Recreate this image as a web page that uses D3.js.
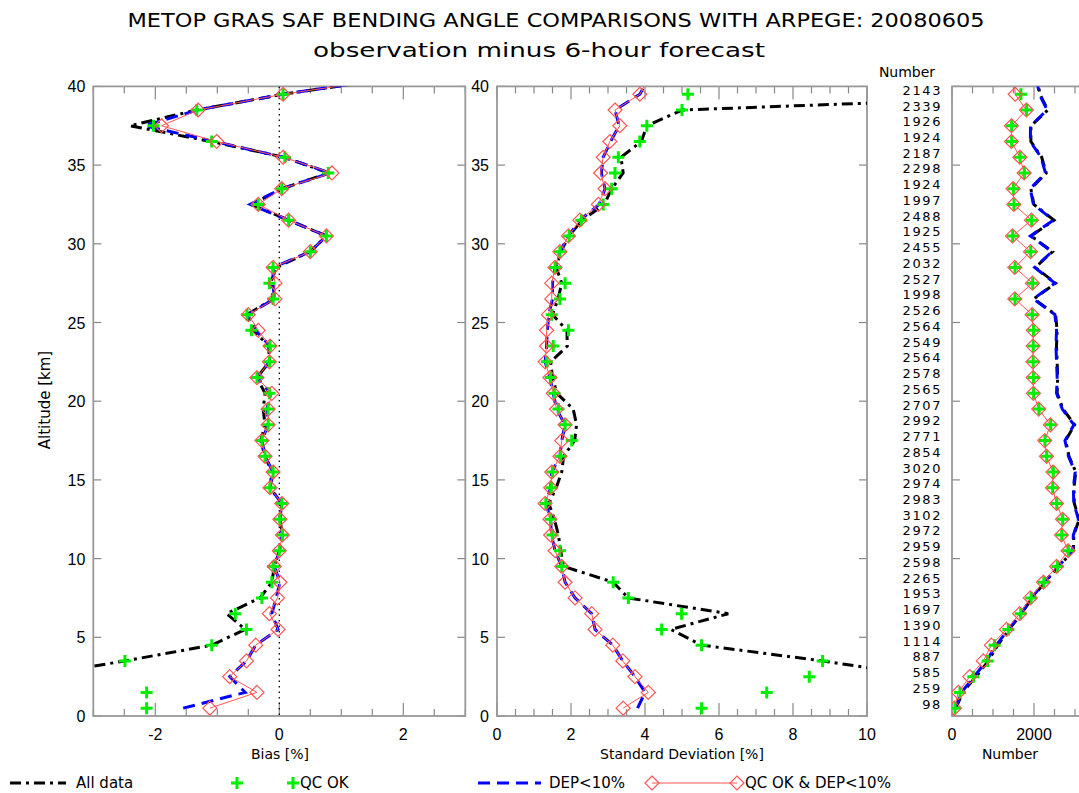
<!DOCTYPE html>
<html>
<head>
<meta charset="utf-8">
<script src="https://cdn.jsdelivr.net/npm/d3@7"></script>
<style>
  body { margin: 0; background: #fff; }
  text { fill: #000; }
</style>
</head>
<body>
<svg id="chart" width="1079" height="793"></svg>
<script>
// levels (km), bottom to top; the 40.5 km level is drawn but clipped by the frame
const altitudes = [0.5, 1.5, 2.5, 3.5, 4.5, 5.5, 6.5, 7.5, 8.5, 9.5, 10.5, 11.5, 12.5, 13.5, 14.5, 15.5,
    16.5, 17.5, 18.5, 19.5, 20.5, 21.5, 22.5, 23.5, 24.5, 25.5, 26.5, 27.5, 28.5, 29.5, 30.5, 31.5,
    32.5, 33.5, 34.5, 35.5, 36.5, 37.5, 38.5, 39.5, 40.5];

// Bias [%]
const biasAll = [-6.0, -5.0, -4.0, -2.49, -1.09, -0.55, -0.85, -0.31, -0.12, -0.08, 0.0, 0.05, 0.01, 0.04, -0.15, -0.12,
    -0.23, -0.30, -0.23, -0.26, -0.23, -0.36, -0.16, -0.17, -0.42, -0.52, -0.10, -0.14, -0.05, 0.50, 0.76, 0.15,
    -0.45, 0.04, 0.80, 0.08, -1.10, -2.41, -1.33, 0.06, 1.8];
const biasQc = [-2.14, -2.14, -3.4, -2.49, -1.09, -0.53, -0.71, -0.28, -0.12, -0.10, 0.0, 0.05, 0.01, 0.04, -0.15, -0.10,
    -0.23, -0.28, -0.18, -0.18, -0.16, -0.36, -0.16, -0.15, -0.45, -0.52, -0.10, -0.16, -0.10, 0.50, 0.76, 0.15,
    -0.34, 0.04, 0.79, 0.09, -1.09, -2.03, -1.33, 0.06, 1.8];
const biasDep = [-1.55, -0.55, -0.80, -0.53, -0.38, -0.02, -0.12, -0.05, 0.01, -0.08, 0.0, 0.05, 0.01, 0.04, -0.15, -0.10,
    -0.23, -0.28, -0.18, -0.20, -0.14, -0.36, -0.16, -0.15, -0.38, -0.51, -0.08, -0.10, -0.10, 0.50, 0.76, 0.15,
    -0.47, 0.04, 0.82, 0.07, -1.05, -2.17, -1.32, 0.06, 1.8];
const biasQcDep = [-1.12, -0.36, -0.80, -0.53, -0.38, -0.02, -0.16, -0.03, 0.01, -0.08, 0.0, 0.05, 0.01, 0.04, -0.15, -0.10,
    -0.23, -0.28, -0.18, -0.18, -0.12, -0.36, -0.16, -0.15, -0.34, -0.50, -0.07, -0.07, -0.10, 0.50, 0.76, 0.15,
    -0.34, 0.04, 0.85, 0.06, -1.01, -1.90, -1.31, 0.06, 1.8];

// Standard deviation [%]
const stdAll = [14.0, 13.0, 11.6, 8.8, 5.53, 4.7, 6.25, 3.55, 3.14, 1.8, 1.72, 1.66, 1.55, 1.4, 1.6, 1.75,
    1.8, 2.1, 2.15, 2.06, 1.62, 1.5, 1.45, 1.9, 1.89, 1.5, 1.65, 1.75, 1.6, 1.72, 1.95, 2.3,
    2.9, 3.1, 3.41, 3.35, 3.9, 4.05, 5.0, 16.5, 18.0];
const stdQc = [5.53, 7.29, 8.44, 8.80, 5.53, 4.45, 4.99, 3.55, 3.14, 1.75, 1.70, 1.50, 1.45, 1.32, 1.47, 1.50,
    1.72, 2.02, 1.84, 1.66, 1.55, 1.45, 1.35, 1.52, 1.93, 1.48, 1.70, 1.84, 1.57, 1.70, 1.95, 2.28,
    2.87, 3.10, 3.19, 3.28, 3.86, 4.05, 5.0, 5.16, 6.0];
const stdDep = [3.8, 4.0, 3.73, 3.40, 3.13, 2.65, 2.56, 2.11, 1.84, 1.75, 1.57, 1.47, 1.45, 1.32, 1.45, 1.48,
    1.70, 1.75, 1.84, 1.61, 1.52, 1.43, 1.30, 1.34, 1.36, 1.40, 1.50, 1.50, 1.57, 1.70, 1.93, 2.24,
    2.76, 2.92, 2.82, 2.87, 3.07, 3.30, 3.19, 3.86, 4.1];
const stdQcDep = [3.41, 4.09, 3.73, 3.40, 3.13, 2.65, 2.56, 2.11, 1.84, 1.75, 1.57, 1.45, 1.43, 1.30, 1.45, 1.48,
    1.70, 1.75, 1.84, 1.61, 1.52, 1.43, 1.30, 1.34, 1.34, 1.39, 1.48, 1.48, 1.57, 1.70, 1.93, 2.24,
    2.74, 2.92, 2.80, 2.87, 3.05, 3.32, 3.19, 3.86, 4.1];

// Number of profiles
const countAll = [98, 259, 585, 887, 1114, 1390, 1697, 1953, 2265, 2598, 2959, 2972, 3102, 2983, 2974, 3020,
    2854, 2771, 2992, 2707, 2565, 2578, 2564, 2549, 2564, 2526, 1998, 2527, 2032, 2455, 1925, 2488,
    1997, 1924, 2298, 2187, 1924, 1926, 2339, 2143, 2080];
const countQc = [73, 195, 520, 870, 1040, 1374, 1676, 1930, 2240, 2570, 2837, 2676, 2700, 2554, 2456, 2471,
    2310, 2268, 2407, 2120, 1990, 1985, 1980, 1982, 1988, 1960, 1537, 1968, 1537, 1920, 1480, 1943,
    1512, 1496, 1765, 1660, 1455, 1455, 1820, 1680, 1640];
const countDep = [80, 230, 540, 840, 1080, 1370, 1680, 1940, 2250, 2590, 2945, 2960, 3085, 2970, 2960, 3005,
    2840, 2755, 2975, 2690, 2550, 2565, 2550, 2535, 2550, 2510, 1985, 2510, 2015, 2440, 1910, 2470,
    1985, 1910, 2280, 2170, 1910, 1915, 2320, 2130, 2060];
const countQcDep = [57, 154, 432, 764, 960, 1330, 1650, 1910, 2230, 2550, 2830, 2670, 2695, 2550, 2450, 2465,
    2305, 2262, 2400, 2115, 1985, 1980, 1975, 1978, 1982, 1955, 1532, 1962, 1532, 1915, 1475, 1938,
    1508, 1490, 1760, 1655, 1450, 1450, 1815, 1540, 1520];

const altTicks = [0, 5, 10, 15, 20, 25, 30, 35, 40];

const svg = d3.select('#chart');
const TOP = 86.4, BOTTOM = 716;
const y = d3.scaleLinear().domain([0, 40]).range([BOTTOM, TOP]);

const panels = [
    { id: 'bias', left: 93.3, right: 465.3, domain: [-3, 3], minor: 0.5, major: [-2, 0, 2], labels: [-2, 0, 2],
      series: [biasAll, biasQc, biasDep, biasQcDep], title: 'Bias [%]', titleX: 280, yLabels: true },
    { id: 'std', left: 497, right: 867, domain: [0, 10], minor: 0.5, major: [0, 2, 4, 6, 8, 10], labels: [0, 2, 4, 6, 8, 10],
      series: [stdAll, stdQc, stdDep, stdQcDep], title: 'Standard Deviation [%]', titleX: 682, yLabels: true },
    // the right panel runs past the window edge: only the labels that fit are written
    { id: 'num', left: 952, right: 1321, domain: [0, 9000], minor: 500, major: [0, 2000, 4000, 6000, 8000], labels: [0, 2000],
      series: [countAll, countQc, countDep, countQcDep], title: 'Number', titleX: 1010, yLabels: false }
];

const BLACK_DASH = '11,5,3,5';
const BLUE_DASH = '12,7';
const GREEN = '#00ee00';
const RED = '#ff5555';
const plusPath = 'M-6,0H6M0,-6V6';
const diamondPath = 'M0,-7L7,0L0,7L-7,0Z';

const tickFont = 'Liberation Sans, Arial, sans-serif';
const labelFont = 'DejaVu Sans, sans-serif';

panels.forEach(p => {
    const x = d3.scaleLinear().domain(p.domain).range([p.left, p.right]);
    const g = svg.append('g');

    svg.append('clipPath').attr('id', 'clip-' + p.id)
        .append('rect')
        .attr('x', p.left).attr('y', TOP)
        .attr('width', p.right - p.left).attr('height', BOTTOM - TOP);

    // ticks (inward, IDL style)
    const minorTicks = d3.range(p.domain[0], p.domain[1] + p.minor / 2, p.minor);
    minorTicks.forEach(v => {
        const isMajor = p.major.some(l => Math.abs(l - v) < 1e-6);
        const len = isMajor ? 13 : 7;
        g.append('line').attr('x1', x(v)).attr('x2', x(v)).attr('y1', BOTTOM).attr('y2', BOTTOM - len)
            .attr('stroke', '#888').attr('stroke-width', 1.2);
        g.append('line').attr('x1', x(v)).attr('x2', x(v)).attr('y1', TOP).attr('y2', TOP + len)
            .attr('stroke', '#888').attr('stroke-width', 1.2);
    });
    altTicks.forEach(a => {
        g.append('line').attr('x1', p.left).attr('x2', p.left + 8).attr('y1', y(a)).attr('y2', y(a))
            .attr('stroke', '#888').attr('stroke-width', 1.2);
        g.append('line').attr('x1', p.right).attr('x2', p.right - 8).attr('y1', y(a)).attr('y2', y(a))
            .attr('stroke', '#888').attr('stroke-width', 1.2);
    });

    // x tick labels
    g.selectAll('.xl').data(p.labels).enter().append('text')
        .attr('x', d => x(d)).attr('y', 740)
        .attr('text-anchor', 'middle')
        .style('font-family', tickFont).style('font-size', '16px')
        .text(d => d);

    // y tick labels
    if (p.yLabels) {
        g.selectAll('.yl').data(altTicks).enter().append('text')
            .attr('x', p.left - 8).attr('y', d => y(d) + 6)
            .attr('text-anchor', 'end')
            .style('font-family', tickFont).style('font-size', '16px')
            .text(d => d);
    }

    g.append('text').attr('x', p.titleX).attr('y', 759)
        .attr('text-anchor', 'middle')
        .style('font-family', labelFont).style('font-size', '14px')
        .text(p.title);

    const plot = svg.append('g').attr('clip-path', 'url(#clip-' + p.id + ')');

    if (p.id === 'bias') {
        plot.append('line').attr('x1', x(0)).attr('x2', x(0)).attr('y1', TOP).attr('y2', BOTTOM)
            .attr('stroke', '#000').attr('stroke-width', 1.3).attr('stroke-dasharray', '1.5,4');
    }

    const line = values => d3.line().x((d, i) => x(values[i])).y(d => y(d))(altitudes);

    const [all, qc, dep, qcdep] = p.series;
    plot.append('path').attr('d', line(all)).attr('fill', 'none')
        .attr('stroke', '#000').attr('stroke-width', 3).attr('stroke-dasharray', BLACK_DASH);
    plot.append('path').attr('d', line(dep)).attr('fill', 'none')
        .attr('stroke', '#0000ff').attr('stroke-width', 3).attr('stroke-dasharray', BLUE_DASH);
    plot.append('path').attr('d', line(qcdep)).attr('fill', 'none')
        .attr('stroke', RED).attr('stroke-width', 1);
    plot.selectAll('.plus').data(altitudes).enter().append('path')
        .attr('d', plusPath)
        .attr('transform', (d, i) => `translate(${x(qc[i])},${y(d)})`)
        .attr('stroke', GREEN).attr('stroke-width', 3).attr('fill', 'none');
    plot.selectAll('.dia').data(altitudes).enter().append('path')
        .attr('d', diamondPath)
        .attr('transform', (d, i) => `translate(${x(qcdep[i])},${y(d)})`)
        .attr('stroke', RED).attr('stroke-width', 1.2).attr('fill', 'none');

    // frame
    g.append('rect').attr('x', p.left).attr('y', TOP)
        .attr('width', p.right - p.left).attr('height', BOTTOM - TOP)
        .attr('fill', 'none').attr('stroke', '#999').attr('stroke-width', 1.8);
});

// number column next to the right panel
const levels = altitudes.filter(a => a < 40);
svg.selectAll('.numlab').data(levels).enter().append('text')
    .attr('x', 942).attr('y', a => y(a) - 4)
    .attr('dominant-baseline', 'central')
    .attr('text-anchor', 'end')
    .style('font-family', labelFont).style('font-size', '13px')
    .style('letter-spacing', '1.6px')
    .text(a => countAll[altitudes.indexOf(a)]);
svg.append('text').attr('x', 907).attr('y', 77)
    .attr('text-anchor', 'middle')
    .style('font-family', labelFont).style('font-size', '14px')
    .text('Number');

// titles
svg.append('text').attr('x', 556).attr('y', 27)
    .attr('text-anchor', 'middle')
    .attr('textLength', 857).attr('lengthAdjust', 'spacingAndGlyphs')
    .style('font-family', labelFont).style('font-size', '19px')
    .text('METOP GRAS SAF BENDING ANGLE COMPARISONS WITH ARPEGE: 20080605');
svg.append('text').attr('x', 539).attr('y', 57)
    .attr('text-anchor', 'middle')
    .attr('textLength', 452).attr('lengthAdjust', 'spacingAndGlyphs')
    .style('font-family', labelFont).style('font-size', '19px')
    .text('observation minus 6-hour forecast');

svg.append('text')
    .attr('transform', 'translate(50,400) rotate(-90)')
    .attr('text-anchor', 'middle')
    .style('font-family', labelFont).style('font-size', '15px')
    .text('Altitude [km]');

// legend
const LY = 783;
const legend = svg.append('g');
legend.append('line').attr('x1', 10).attr('x2', 66).attr('y1', LY).attr('y2', LY)
    .attr('stroke', '#000').attr('stroke-width', 3).attr('stroke-dasharray', BLACK_DASH);
legend.append('text').attr('x', 76).attr('y', LY + 5)
    .style('font-family', labelFont).style('font-size', '15px').text('All data');

[237, 293].forEach(px => legend.append('path').attr('d', plusPath)
    .attr('transform', `translate(${px},${LY})`)
    .attr('stroke', GREEN).attr('stroke-width', 3).attr('fill', 'none'));
legend.append('text').attr('x', 300).attr('y', LY + 5)
    .style('font-family', labelFont).style('font-size', '15px').text('QC OK');

legend.append('line').attr('x1', 478).attr('x2', 541).attr('y1', LY).attr('y2', LY)
    .attr('stroke', '#0000ff').attr('stroke-width', 3).attr('stroke-dasharray', BLUE_DASH);
legend.append('text').attr('x', 549).attr('y', LY + 5)
    .style('font-family', labelFont).style('font-size', '15px').text('DEP<10%');

legend.append('line').attr('x1', 652).attr('x2', 737).attr('y1', LY).attr('y2', LY)
    .attr('stroke', RED).attr('stroke-width', 1);
[652, 737].forEach(px => legend.append('path').attr('d', diamondPath)
    .attr('transform', `translate(${px},${LY})`)
    .attr('stroke', RED).attr('stroke-width', 1.2).attr('fill', 'none'));
legend.append('text').attr('x', 745).attr('y', LY + 5)
    .style('font-family', labelFont).style('font-size', '15px').text('QC OK & DEP<10%');
</script>
</body>
</html>
